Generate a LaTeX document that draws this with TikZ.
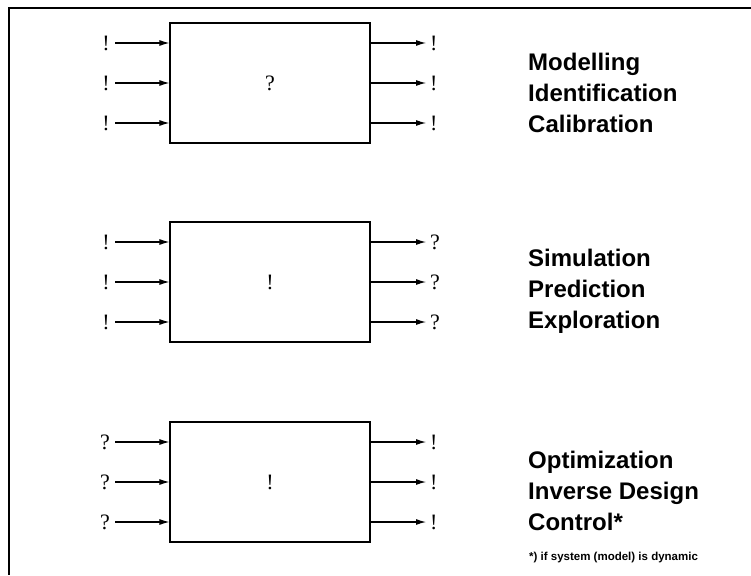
\documentclass[tikz,border=0pt]{standalone}
\usepackage{fontspec}
\setmainfont{Liberation Serif}
\setsansfont{Liberation Sans}
\usetikzlibrary{arrows.meta}
\begin{document}
\begin{tikzpicture}[x=1pt,y=-1pt,
  blk/.style={draw,line width=1.2pt,minimum width=200pt,minimum height=120pt,inner sep=0pt,font=\fontsize{22}{24}\selectfont},
  sym/.style={inner sep=0pt,font=\fontsize{22}{24}\selectfont},
  conn/.style={line width=1.1pt,-{Latex[length=10pt,width=6pt]}},
  desc/.style={anchor=west,align=left,inner sep=0pt,font=\sffamily\bfseries\fontsize{24}{31}\selectfont},
  frame/.style={line width=1.3pt}]
\useasboundingbox (0,0) rectangle (751,575);
\draw[frame] (751,8) -- (9,8) -- (9,575);
% boxes
\foreach \i/\y/\c/\inl/\outl in {1/83/?/!/!, 2/282/!/!/?, 3/482/!/?/!}{
  \node[blk] (b\i) at (270,\y) {\c};
  \foreach \k/\d in {1/-40,2/0,3/40}{
    \coordinate (i\i\k) at (115,\y+\d);
    \node[sym,anchor=east] (il\i\k) at (110,\y+\d) {\inl};
    \draw[conn] (i\i\k) -- (b\i.west |- i\i\k);
    \coordinate (o\i\k) at (370,\y+\d);
    \node[sym,anchor=west] (ol\i\k) at (430,\y+\d) {\outl};
    \draw[conn] (b\i.east |- o\i\k) -- ([xshift=-4pt]ol\i\k.west);
  }
}
\node[desc] (t1) at (528,93) {Modelling\\Identification\\Calibration};
\node[desc] (t2) at (528,291) {Simulation\\Prediction\\Exploration};
\node[desc] (t3) at (528,491) {Optimization\\Inverse Design\\Control*};
\node[anchor=west,inner sep=0pt,font=\sffamily\bfseries\fontsize{11.5}{13}\selectfont] (fn) at (529,558) {*) if system (model) is dynamic};
\end{tikzpicture}
\end{document}
